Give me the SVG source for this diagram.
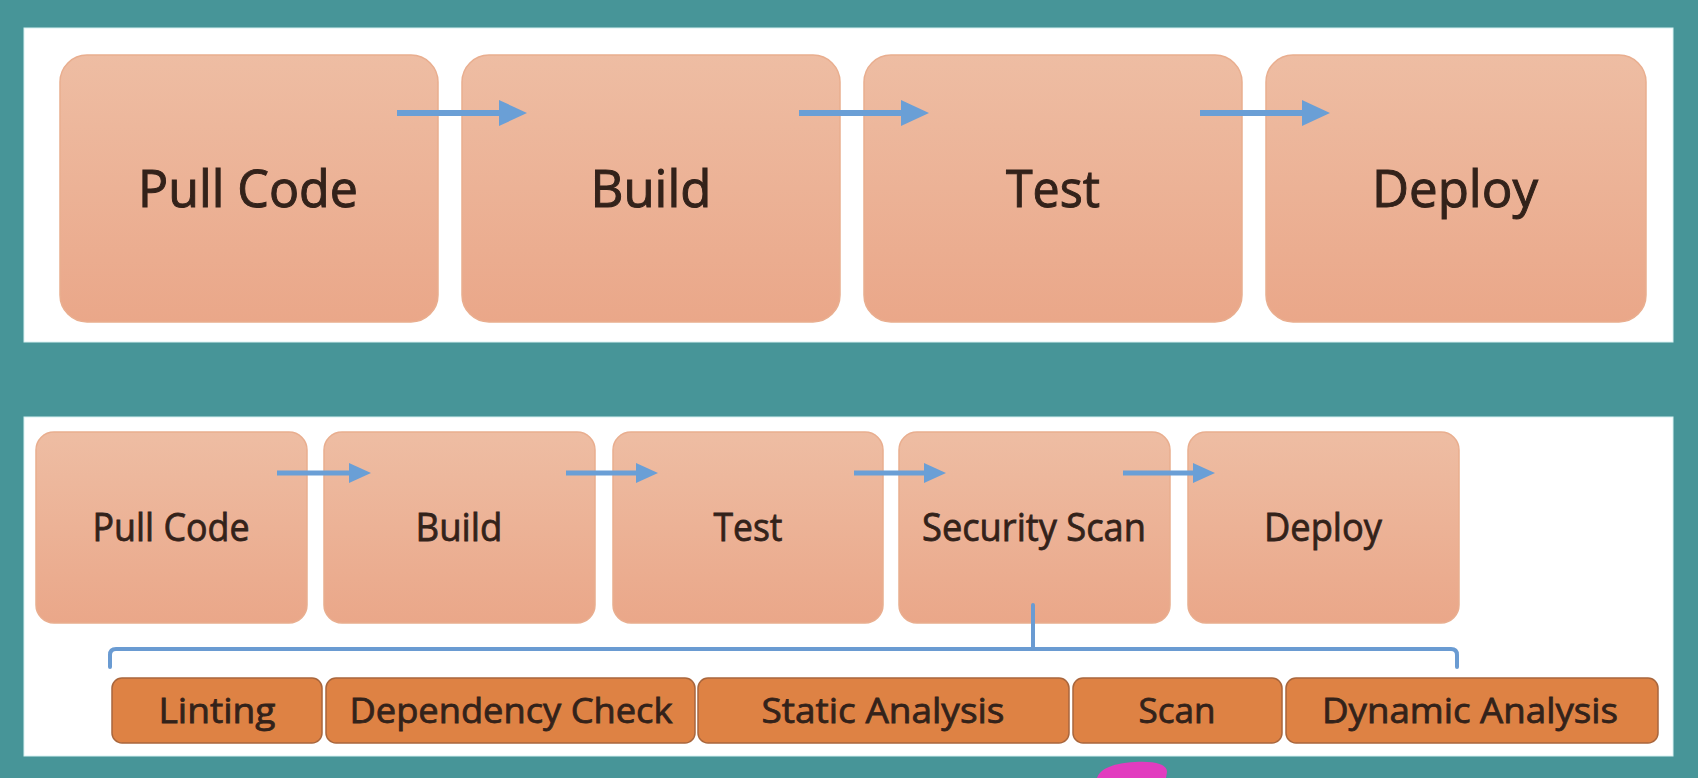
<svg xmlns="http://www.w3.org/2000/svg" width="1698" height="778" viewBox="0 0 1698 778">
  <style>
    .panel { fill: #ffffff; stroke: #d8f2f2; stroke-width: 1; }
    .stage { fill: url(#peach); stroke: #e9ae8f; stroke-width: 1.5; }
    .task { fill: #de8244; stroke: #a9663c; stroke-width: 1.5; }
    .lbl { font-family: "Open Sans", "Liberation Sans", sans-serif; fill: #33221a; stroke: #33221a; text-anchor: middle; }
    .big { font-size: 52px; stroke-width: 1; }
    .mid { font-size: 39px; stroke-width: 0.8; }
    .small { font-size: 35px; stroke-width: 0.8; }
    .flow { stroke: #6a9fd6; fill: none; }
    .bracket { stroke: #6a9bd2; stroke-width: 4; fill: none; stroke-linecap: round; stroke-linejoin: round; }
  </style>
  <defs>
    <linearGradient id="peach" x1="0" y1="0" x2="0" y2="1">
      <stop offset="0" stop-color="#eebda3"/>
      <stop offset="1" stop-color="#eaa789"/>
    </linearGradient>
    <marker id="headBig" markerWidth="28" markerHeight="26" refX="1" refY="13" orient="auto" markerUnits="userSpaceOnUse">
      <path d="M0,0 L28,13 L0,26 Z" fill="#6a9fd6"/>
    </marker>
    <marker id="headSmall" markerWidth="22" markerHeight="20" refX="1" refY="10" orient="auto" markerUnits="userSpaceOnUse">
      <path d="M0,0 L22,10 L0,20 Z" fill="#6a9fd6"/>
    </marker>
  </defs>

  <!-- background -->
  <rect x="0" y="0" width="1698" height="778" fill="#479598"/>
  <rect class="panel" x="24" y="28" width="1649" height="314"/>
  <rect class="panel" x="24" y="417" width="1649" height="339"/>

  <!-- upper pipeline -->
  <g id="top-pull-code">
    <rect class="stage" x="60" y="55" width="378" height="267" rx="27"/>
    <text class="lbl big" x="248" y="207" textLength="220" lengthAdjust="spacingAndGlyphs">Pull Code</text>
  </g>
  <g id="top-build">
    <rect class="stage" x="462" y="55" width="378" height="267" rx="27"/>
    <text class="lbl big" x="651" y="207" textLength="121" lengthAdjust="spacingAndGlyphs">Build</text>
  </g>
  <g id="top-test">
    <rect class="stage" x="864" y="55" width="378" height="267" rx="27"/>
    <text class="lbl big" x="1053" y="207" textLength="94" lengthAdjust="spacingAndGlyphs">Test</text>
  </g>
  <g id="top-deploy">
    <rect class="stage" x="1266" y="55" width="380" height="267" rx="27"/>
    <text class="lbl big" x="1455" y="207" textLength="166" lengthAdjust="spacingAndGlyphs">Deploy</text>
  </g>

  <!-- lower pipeline -->
  <g id="pull-code">
    <rect class="stage" x="36" y="432" width="271" height="191" rx="18"/>
    <text class="lbl mid" x="171" y="541" textLength="157" lengthAdjust="spacingAndGlyphs">Pull Code</text>
  </g>
  <g id="build">
    <rect class="stage" x="324" y="432" width="271" height="191" rx="18"/>
    <text class="lbl mid" x="459" y="541" textLength="87" lengthAdjust="spacingAndGlyphs">Build</text>
  </g>
  <g id="test">
    <rect class="stage" x="613" y="432" width="270" height="191" rx="18"/>
    <text class="lbl mid" x="748" y="541" textLength="69" lengthAdjust="spacingAndGlyphs">Test</text>
  </g>
  <g id="security-scan">
    <rect class="stage" x="899" y="432" width="271" height="191" rx="18"/>
    <text class="lbl mid" x="1034" y="541" textLength="224" lengthAdjust="spacingAndGlyphs">Security Scan</text>
  </g>
  <g id="deploy">
    <rect class="stage" x="1188" y="432" width="271" height="191" rx="18"/>
    <text class="lbl mid" x="1323" y="541" textLength="118" lengthAdjust="spacingAndGlyphs">Deploy</text>
  </g>

  <!-- security scan steps -->
  <g id="linting">
    <rect class="task" x="112" y="678" width="210" height="65" rx="10"/>
    <text class="lbl small" x="217" y="723" textLength="117" lengthAdjust="spacingAndGlyphs">Linting</text>
  </g>
  <g id="dependency-check">
    <rect class="task" x="326" y="678" width="369" height="65" rx="10"/>
    <text class="lbl small" x="511" y="723" textLength="323" lengthAdjust="spacingAndGlyphs">Dependency Check</text>
  </g>
  <g id="static-analysis">
    <rect class="task" x="698" y="678" width="371" height="65" rx="10"/>
    <text class="lbl small" x="883" y="723" textLength="243" lengthAdjust="spacingAndGlyphs">Static Analysis</text>
  </g>
  <g id="scan">
    <rect class="task" x="1073" y="678" width="209" height="65" rx="10"/>
    <text class="lbl small" x="1177" y="723" textLength="77" lengthAdjust="spacingAndGlyphs">Scan</text>
  </g>
  <g id="dynamic-analysis">
    <rect class="task" x="1286" y="678" width="372" height="65" rx="10"/>
    <text class="lbl small" x="1470" y="723" textLength="296" lengthAdjust="spacingAndGlyphs">Dynamic Analysis</text>
  </g>

  <!-- connectors: shafts stop at the arrowhead base -->
  <g id="connectors">
    <line class="flow" x1="397" y1="113" x2="500" y2="113" stroke-width="6" marker-end="url(#headBig)"/>
    <line class="flow" x1="799" y1="113" x2="902" y2="113" stroke-width="6" marker-end="url(#headBig)"/>
    <line class="flow" x1="1200" y1="113" x2="1303" y2="113" stroke-width="6" marker-end="url(#headBig)"/>

    <line class="flow" x1="277" y1="473" x2="350" y2="473" stroke-width="5" marker-end="url(#headSmall)"/>
    <line class="flow" x1="566" y1="473" x2="637" y2="473" stroke-width="5" marker-end="url(#headSmall)"/>
    <line class="flow" x1="854" y1="473" x2="925" y2="473" stroke-width="5" marker-end="url(#headSmall)"/>
    <line class="flow" x1="1123" y1="473" x2="1194" y2="473" stroke-width="5" marker-end="url(#headSmall)"/>

    <path class="bracket" d="M110,667 L110,655 Q110,649 116,649 L1451,649 Q1457,649 1457,655 L1457,667"/>
    <line class="bracket" x1="1033" y1="605" x2="1033" y2="649"/>
  </g>

  <!-- pen mark below the lower panel -->
  <path d="M1097,778 C1100,768 1115,763 1135,762 C1155,761 1167,764 1167,772 L1166,778 Z" fill="#e23cbf"/>
</svg>
